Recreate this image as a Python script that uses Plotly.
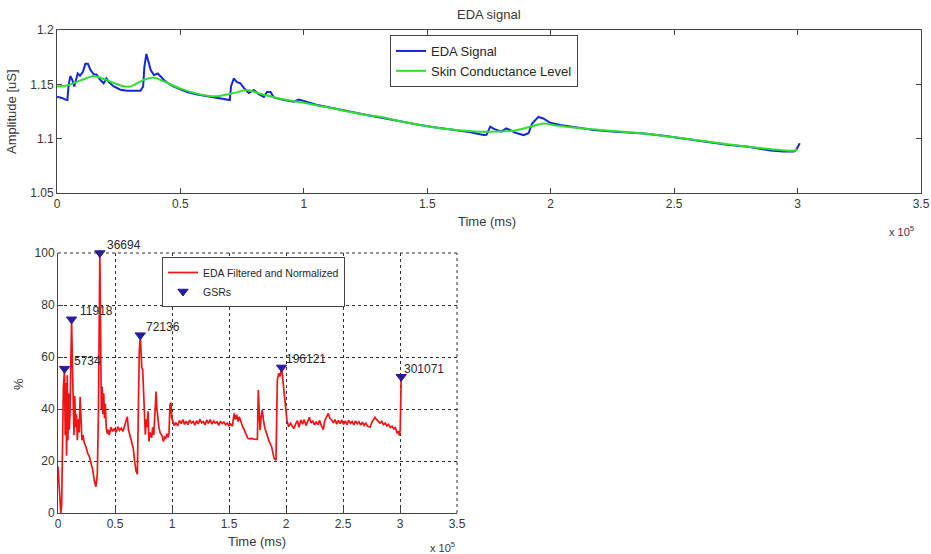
import plotly.graph_objects as go

# ---------------- data ----------------
# Top panel: EDA signal (time in ms, amplitude in uS)
eda_t = [0, 2000, 3400, 4200, 4700, 5400, 6200, 7000, 8400, 9300, 10500, 11500, 12500,
         13600, 15000, 16000, 17600, 18900, 20000, 21000, 23000, 25700, 28400, 31000,
         33800, 34900, 35400, 36200, 37100, 38000, 39300, 40800, 42100, 44000, 47300,
         52700, 56800, 62000, 66000, 69000, 70000, 70500, 71600, 72900, 74300, 75600,
         77700, 79700, 81700, 83800, 85100, 86500, 87800, 91900, 95900, 98000, 99300,
         105000, 112000, 118000, 125000, 132000, 139000, 146000, 152000, 160000, 167000,
         172800, 174000, 175500, 177000, 180000, 182000, 183500, 185500, 189000, 191000,
         192500, 195000, 197000, 199800, 203900, 212000, 217400, 225000, 237700, 245000,
         251200, 260000, 271500, 280000, 289000, 294000, 298500, 299500, 300900]
eda_v = [1.1385, 1.1375, 1.136, 1.1355, 1.149, 1.1576, 1.154, 1.148, 1.160, 1.158, 1.1616,
         1.169, 1.169, 1.163, 1.159, 1.159, 1.154, 1.151, 1.1554, 1.152, 1.148, 1.145,
         1.144, 1.144, 1.144, 1.148, 1.166, 1.178, 1.171, 1.163, 1.1585, 1.160, 1.157,
         1.1524, 1.148, 1.143, 1.1407, 1.1385, 1.137, 1.1355, 1.1355, 1.148, 1.1554,
         1.152, 1.151, 1.147, 1.142, 1.1447, 1.141, 1.1385, 1.143, 1.143, 1.138, 1.1355,
         1.134, 1.136, 1.135, 1.1312, 1.1280, 1.1250, 1.1220, 1.1190, 1.1158, 1.1130,
         1.1108, 1.1085, 1.1062, 1.1033, 1.1035, 1.111, 1.109, 1.1065, 1.1095, 1.108,
         1.1055, 1.1033, 1.105, 1.114, 1.120, 1.1186, 1.1146, 1.1125, 1.1095, 1.1080,
         1.1066, 1.1048, 1.1030, 1.1009, 1.0985, 1.0945, 1.0925, 1.0892, 1.0883, 1.0882,
         1.0900, 1.0957]

# Top panel: skin conductance level
scl_t = [0, 4000, 10000, 14900, 20000, 25700, 29700, 35000, 39000, 43000, 50000, 58000,
         65000, 71600, 77000, 82000, 91900, 100000, 112000, 125700, 130900, 139000,
         151200, 160000, 171500, 185000, 191700, 197100, 203000, 212000, 237700, 258000,
         278300, 298500, 299900]
scl_v = [1.148, 1.149, 1.154, 1.1576, 1.154, 1.149, 1.148, 1.154, 1.1563, 1.153, 1.146,
         1.1407, 1.139, 1.142, 1.1447, 1.1416, 1.136, 1.133, 1.1278, 1.1216, 1.1202,
         1.1160, 1.1110, 1.1085, 1.1064, 1.1073, 1.111, 1.114, 1.1118, 1.1095, 1.1048,
         1.099, 1.093, 1.0889, 1.090]

# Bottom panel: EDA filtered and normalized (%)
red_t = [0, 800, 1600, 2400, 3200, 4000, 4700, 5734, 6300, 6900, 7500, 8100, 8700, 9300,
         9900, 10500, 11200, 11918, 12600, 13300, 14000, 14700, 15400, 16200, 17000,
         17800, 18600, 19400, 20200, 21000, 22000, 23000, 24500, 26000, 27500, 29000,
         30500, 32000, 33300, 34500, 35500, 36694, 37300, 38000, 38700, 39400, 40100,
         40800, 41500, 42300, 43200, 44000,
         45000, 46500, 48000, 49500, 51000, 52500, 54000, 55500, 57000, 58500, 60000,
         60800, 61800, 63000, 64500, 66000, 67200, 68400, 69600, 70500, 71300, 72136,
         72800, 73500, 74300, 75000, 75800, 76600, 77400, 78200, 79000, 79800, 80600,
         81400, 82200, 83000, 84000, 85000, 86000, 86800, 87600, 88500, 89500, 90500,
         91500, 92400, 93500, 94500, 95500, 96500, 97400, 98200, 99000, 99800,
         100800, 102000, 103500, 105000, 106500, 108000, 109500, 111000, 112500, 114000,
         115500, 117000, 118500, 120000, 121500, 123000, 124500, 126000, 127500, 129000,
         130500, 132000, 133500, 135000, 136500, 138000, 139500, 141000, 142500, 144000,
         145500, 147000, 148500, 150000, 151500, 153000,
         154500, 155500, 156700, 158000, 159000, 160500, 162000, 163500, 165000, 166500,
         168000, 169900, 172000, 174900, 175700, 176400, 177200, 178200, 179200, 180200,
         181500, 183000, 185200, 187400, 189500, 191200, 192400, 193600, 194700, 196121,
         197500, 199200, 200800, 202300, 204000, 205500, 207000, 208500, 210000, 211500,
         213000, 214500, 216000, 217500, 219000, 220500, 222000, 223500, 225000, 226500,
         228000, 229500, 231000, 232700, 234000, 235500, 237100, 238500, 240000, 241500,
         243000, 244500, 246000, 247500, 249000, 250500, 252000, 253500, 255000, 256500,
         258000, 259500, 261000, 262500, 264000, 265500, 267000, 268500, 270000, 271500,
         273700, 275500, 277000, 278000, 279500, 281000, 282500, 284000, 285500, 287000,
         288500, 290000, 291500, 293000, 294500, 296000, 297600, 298500, 299400, 300200,
         301071]
red_v = [18, 12, 5, 0, 3, 20, 48, 55.5, 30, 50, 22, 53, 28, 46, 32, 38, 52, 74.5, 58, 40,
         30, 45, 33, 38, 28, 36, 31, 44.7, 35, 28, 30, 27, 25.5, 23, 21.7, 19, 16.5, 12,
         10.1, 15, 40, 100, 66, 40, 48.6, 38, 46, 36.5, 42, 33, 30.5, 32,
         30, 33, 31.4, 32.5, 31, 33.2, 31.8, 32.6, 31.4, 33.5, 35, 37, 32, 30, 27, 25,
         20, 16.2, 14.9, 50, 62, 68.4,
         58, 56, 55, 47, 42, 30.1, 36, 33, 39.1, 27.5, 31, 30.1, 29, 33, 30, 38, 46.7,
         40, 35.2, 33, 31, 30.1, 29.5, 27.5, 29.2, 28.8, 30.5, 29, 31, 41.6, 42.5, 36.5,
         35, 33.6, 34.8, 33.5, 35.6, 34.4, 35.9, 34.1, 35.3, 34.0, 35.7, 34.6, 35.2, 33.8,
         35.5, 34.3, 36.0, 34.7, 35.1, 33.9, 35.8, 34.5, 35.9, 34.2, 35.4, 34.6, 35.1,
         33.7, 35.3, 34.4, 35.0, 34.0, 34.6, 33.6, 34.2, 33.4,
         38.3, 36, 37.8, 35.2, 37.0, 34.8, 33.2, 31.9, 30.5, 28.7, 28.5, 28.7, 28.4, 28.3,
         47.3, 39.6, 31.9, 36.9, 39.6, 35.8, 32.5, 30.6, 27.5, 25.5, 21.0, 20.3, 51.2,
         53.7, 52.5, 56, 49.9, 40.9, 35.8, 33.2, 34.5, 33.4, 32.5, 34.3, 35.5, 33.0, 35.8,
         34.2, 35.9, 33.6, 35.0, 36.8, 34.6, 35.5, 33.9, 35.1, 34.0, 35.6, 33.6, 32.1,
         35.5, 37.2, 38.3, 36.4, 35.8, 34.7, 35.9, 34.2, 35.6, 34.4, 35.8, 34.1, 35.4,
         34.0, 35.6, 34.5, 35.2, 33.9, 35.4, 34.3, 35.1, 33.8, 34.9, 33.7, 34.5, 33.4,
         33.0, 35.0, 36.2, 36.8, 35.9, 35.4, 34.6, 35.2, 34.0, 34.6, 33.5, 34.1, 32.9,
         33.4, 32.3, 32.8, 30.6, 31.5, 29.8, 32, 52.4]

# GSR peaks
gsr_t = [5734, 11918, 36694, 72136, 196121, 301071]
gsr_v = [55.5, 74.5, 100, 68.4, 56, 52.4]
gsr_labels = ["5734", "11918", "36694", "72136", "196121", "301071"]

# Ticks
x_ticks = [0, 50000, 100000, 150000, 200000, 250000, 300000, 350000]
x_tick_labels = ["0", "0.5", "1", "1.5", "2", "2.5", "3", "3.5"]
y1_ticks = [1.05, 1.1, 1.15, 1.2]
y1_tick_labels = ["1.05", "1.1", "1.15", "1.2"]
y2_ticks = [0, 20, 40, 60, 80, 100]
y2_tick_labels = ["0", "20", "40", "60", "80", "100"]

# ---------------- figure ----------------
W, H = 931, 554
FONT = "Liberation Sans, Arial, sans-serif"
TXT = "#383838"
AXC = "#454545"
label_dx = [7, 6, 5, 4, 2, 1]   # label offsets (px) to the right of each GSR marker

def px_x(p):
    return p / W

def px_y(p):
    return 1 - p / H

fig = go.Figure()

fig.add_trace(go.Scatter(x=eda_t, y=eda_v, mode="lines", name="EDA Signal",
                         line=dict(color="#1428d8", width=2),
                         xaxis="x", yaxis="y", legend="legend"))
fig.add_trace(go.Scatter(x=scl_t, y=scl_v, mode="lines", name="Skin Conductance Level",
                         line=dict(color="#2ee02e", width=2, shape="spline", smoothing=0.6),
                         xaxis="x", yaxis="y", legend="legend"))
fig.add_trace(go.Scatter(x=red_t, y=red_v, mode="lines", name="EDA Filtered and Normalized",
                         line=dict(color="#f01414", width=1.7),
                         xaxis="x2", yaxis="y2", legend="legend2"))
fig.add_trace(go.Scatter(x=gsr_t, y=gsr_v, mode="markers", name="GSRs",
                         marker=dict(symbol="triangle-down", size=9, color="#2a1b9e",
                                     line=dict(color="#2a1b9e", width=1)),
                         cliponaxis=False,
                         xaxis="x2", yaxis="y2", legend="legend2"))

annotations = []
for t, v, lab, dx in zip(gsr_t, gsr_v, gsr_labels, label_dx):
    annotations.append(dict(x=t, y=v, xref="x2", yref="y2", text=lab, showarrow=False,
                            xanchor="left", yanchor="middle", xshift=dx, yshift=8,
                            font=dict(family=FONT, size=12, color="#282828")))

def ann(x, y, text, size=13, angle=0, xanchor="center"):
    annotations.append(dict(x=px_x(x), y=px_y(y), xref="paper", yref="paper", text=text,
                            showarrow=False, xanchor=xanchor, yanchor="middle",
                            textangle=angle, font=dict(family=FONT, size=size, color=TXT)))

ann(489, 14, "EDA signal")
ann(487, 221, "Time (ms)")
ann(12, 112, "Amplitude [uS]", angle=-90)
ann(916, 231, "x 10<sup>5</sup>", size=11, xanchor="right")
ann(257, 541, "Time (ms)")
ann(18, 384, "%", angle=-90)
ann(457, 547, "x 10<sup>5</sup>", size=11, xanchor="right")

axis_common = dict(zeroline=False, showline=True, linecolor=AXC, automargin=False,
                   linewidth=1, ticks="inside", ticklen=5, tickcolor=AXC,
                   tickfont=dict(family=FONT, size=12, color=TXT))

fig.update_layout(
    width=W, height=H, margin=dict(l=0, r=0, t=0, b=0, autoexpand=False),
    paper_bgcolor="white", plot_bgcolor="white",
    font=dict(family=FONT, size=12, color=TXT),
    showlegend=True,
    xaxis=dict(domain=[px_x(57), px_x(921)], range=[0, 350000], anchor="y",
               tickmode="array", tickvals=x_ticks, ticktext=x_tick_labels,
               mirror="ticks", showgrid=False, **axis_common),
    yaxis=dict(domain=[px_y(193), px_y(30)], range=[1.05, 1.2], anchor="x",
               tickmode="array", tickvals=y1_ticks, ticktext=y1_tick_labels,
               mirror="ticks", showgrid=False, **axis_common),
    xaxis2=dict(domain=[px_x(58), px_x(457)], range=[0, 350000], anchor="y2",
                tickmode="array", tickvals=x_ticks, ticktext=x_tick_labels,
                showgrid=True, gridcolor="#303030", gridwidth=1, griddash="dot",
                **axis_common),
    yaxis2=dict(domain=[px_y(513), px_y(253)], range=[0, 100], anchor="x2",
                tickmode="array", tickvals=y2_ticks, ticktext=y2_tick_labels,
                showgrid=True, gridcolor="#303030", gridwidth=1, griddash="dot",
                **axis_common),
    legend=dict(x=px_x(390), y=px_y(35), xanchor="left", yanchor="top",
                bgcolor="white", bordercolor=AXC, borderwidth=1,
                font=dict(family=FONT, size=13, color="#282828"), tracegroupgap=0),
    legend2=dict(x=px_x(162), y=px_y(257), xanchor="left", yanchor="top",
                 bgcolor="white", bordercolor=AXC, borderwidth=1,
                 font=dict(family=FONT, size=10.5, color="#282828"), tracegroupgap=0),
    annotations=annotations,
    shapes=[
        # dotted frame edges of the lower axes box (top and right), as in the reference
        dict(type="line", xref="x2 domain", yref="y2 domain", x0=0, x1=1, y0=1, y1=1,
             line=dict(color="#303030", width=1, dash="dot")),
        dict(type="line", xref="x2 domain", yref="y2 domain", x0=1, x1=1, y0=0, y1=1,
             line=dict(color="#303030", width=1, dash="dot")),
    ],
)

fig.write_html("out.html", config={"displayModeBar": False},
               post_script="document.body.style.margin='0';document.body.style.overflow='hidden';")
